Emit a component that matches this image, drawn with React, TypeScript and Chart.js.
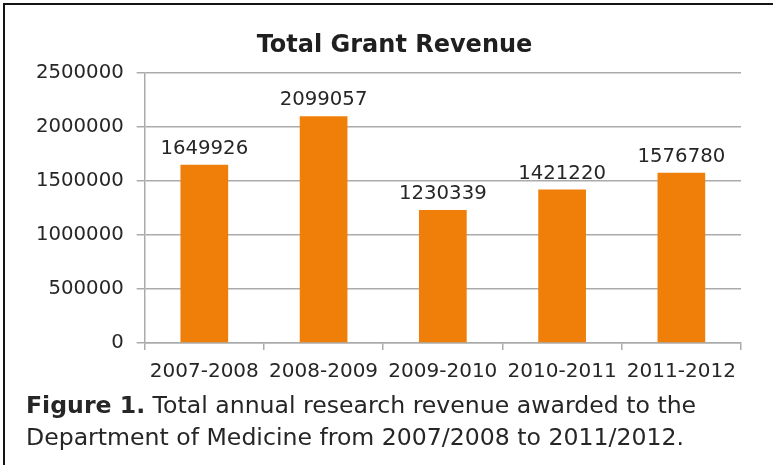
import React, { useEffect, useRef } from "react";
import { Chart, registerables } from "chart.js";

Chart.register(...registerables);

const categories = ["2007-2008", "2008-2009", "2009-2010", "2010-2011", "2011-2012"];
const revenue = [1649926, 2099057, 1230339, 1421220, 1576780];
const yTicks = [0, 500000, 1000000, 1500000, 2000000, 2500000];
const chartTitle = "Total Grant Revenue";
const captionBold = "Figure 1.";
const captionText = " Total annual research revenue awarded to the Department of Medicine from 2007/2008 to 2011/2012.";

const FONT = "'DejaVu Sans', Verdana, sans-serif";
const TEXT = "#262626";
const GRID = "#ababab";
const BAR = "#f07f09";

const valueLabels = {
  id: "valueLabels",
  afterDatasetsDraw(chart: any) {
    const ctx = chart.ctx;
    const meta = chart.getDatasetMeta(0);
    ctx.save();
    ctx.font = `19.7px ${FONT}`;
    ctx.fillStyle = TEXT;
    ctx.textAlign = "center";
    ctx.textBaseline = "alphabetic";
    meta.data.forEach((el: any, i: number) => {
      const v = chart.data.datasets[0].data[i];
      ctx.fillText(String(v), el.x, el.y - 11);
    });
    ctx.restore();
  },
};

const titleDraw = {
  id: "titleDraw",
  afterDraw(chart: any) {
    const ctx = chart.ctx;
    ctx.save();
    ctx.font = `bold 24px ${FONT}`;
    ctx.fillStyle = "#1f1f1f";
    ctx.textAlign = "center";
    ctx.textBaseline = "alphabetic";
    ctx.fillText(chartTitle, chart.width / 2 + 8, 52);
    ctx.restore();
  },
};

export default function App() {
  const ref = useRef<HTMLCanvasElement | null>(null);
  useEffect(() => {
    if (!ref.current) return;
    const chart = new Chart(ref.current, {
      type: "bar",
      data: {
        labels: categories,
        datasets: [
          {
            data: revenue,
            backgroundColor: BAR,
            borderWidth: 0,
            barPercentage: 0.4,
            categoryPercentage: 1,
          },
        ],
      },
      options: {
        animation: false,
        responsive: false,
        maintainAspectRatio: false,
        layout: { padding: { left: 23, right: 32, top: 73, bottom: 0 } },
        plugins: {
          legend: { display: false },
          tooltip: { enabled: false },
          title: { display: false },
        },
        scales: {
          x: {
            grid: {
              display: true,
              drawOnChartArea: false,
              drawTicks: true,
              tickLength: 7,
              color: GRID,
              lineWidth: 1.5,
            },
            border: { display: true, color: GRID, width: 1.5 },
            ticks: {
              color: TEXT,
              font: { family: FONT, size: 20 },
              padding: 10,
              maxRotation: 0,
            },
          },
          y: {
            min: 0,
            max: 2500000,
            afterBuildTicks: (scale: any) => {
              scale.ticks = yTicks.map((v) => ({ value: v }));
            },
            grid: {
              color: GRID,
              lineWidth: 1.5,
              drawTicks: true,
              tickLength: 8,
            },
            border: { display: true, color: GRID, width: 1.5 },
            ticks: {
              color: TEXT,
              font: { family: FONT, size: 19.7 },
              padding: 13,
              callback: (v: any) => String(v),
            },
          },
        },
      },
      plugins: [valueLabels, titleDraw],
    });
    return () => chart.destroy();
  }, []);

  return (
    <div style={{ position: "absolute", left: 0, top: 0, width: 773, height: 465, background: "#fff", overflow: "hidden" }}>
      <div style={{ position: "absolute", left: 3, top: 3, width: 2, height: 462, background: "#141414" }} />
      <div style={{ position: "absolute", left: 3, top: 3, width: 790, height: 2, background: "#141414" }} />
      <canvas ref={ref} width={773} height={394} style={{ position: "absolute", left: 0, top: 0, width: 773, height: 394 }} />
      <div
        style={{
          position: "absolute",
          left: 26,
          top: 389,
          width: 745,
          fontFamily: FONT,
          fontSize: 23.6,
          lineHeight: "32px",
          color: TEXT,
        }}
      >
        <b>{captionBold}</b>
        {captionText}
      </div>
    </div>
  );
}
